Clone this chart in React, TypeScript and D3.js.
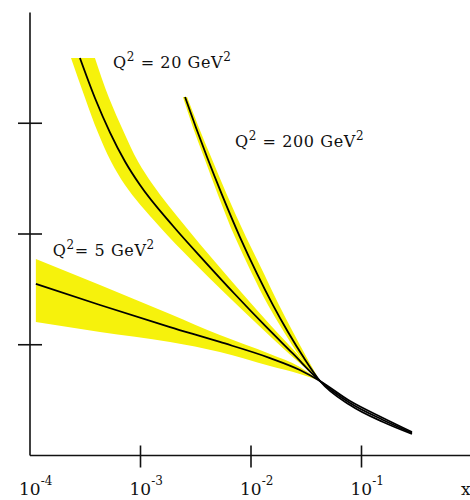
import React from 'react';
import * as d3 from 'd3';

const W = 470;
const H = 500;

// x axis: decades on a log scale, labelled 10^n
const xDecades = [1e-4, 1e-3, 1e-2, 1e-1];
const xExponents = ['-4', '-3', '-2', '-1'];
const xTicks = [1e-3, 1e-2, 1e-1];
// y axis: unlabelled ticks
const yTicks = [1, 2, 3];

// Q² = 5 GeV²: central curve and its uncertainty band (band given as lo/hi at each x)
const q5X = [1.13e-4, 4.3e-4, 1.85e-3, 5.23e-3, 0.01486, 0.0277, 0.0421, 0.0787, 0.1567, 0.2864];
const q5Y = [1.549, 1.359, 1.16, 1.025, 0.88, 0.772, 0.673, 0.492, 0.339, 0.212];
const q5BandX = [1.13e-4, 4.3e-4, 1.85e-3, 5.23e-3, 0.01486, 0.0277, 0.0421];
const q5BandHi = [1.774, 1.54, 1.278, 1.088, 0.916, 0.799, 0.673];
const q5BandLo = [1.205, 1.115, 1.025, 0.935, 0.808, 0.736, 0.673];

// Q² = 20 GeV²: band given as left/right x at each y level
const q20X = [2.83e-4, 3.87e-4, 5.3e-4, 7.24e-4, 9.9e-4, 1.97e-3, 3.84e-3, 7.16e-3, 0.0134, 0.02399, 0.0421, 0.0787, 0.1567, 0.2864];
const q20Y = [3.589, 3.228, 2.916, 2.655, 2.442, 2.072, 1.749, 1.456, 1.172, 0.919, 0.673, 0.474, 0.321, 0.203];
const q20BandY = [3.589, 3.228, 2.916, 2.655, 2.442, 2.072, 1.749, 1.456, 1.172, 0.919, 0.673];
const q20BandXLeft = [2.35e-4, 3.15e-4, 4.12e-4, 5.41e-4, 7.24e-4, 1.47e-3, 2.99e-3, 5.94e-3, 0.01181, 0.02208, 0.0421];
const q20BandXRight = [3.87e-4, 5.19e-4, 7.09e-4, 9.49e-4, 1.3e-3, 2.53e-3, 4.72e-3, 8.47e-3, 0.01517, 0.02609, 0.0421];

// Q² = 200 GeV²
const q200X = [2.53e-3, 3.18e-3, 4.0e-3, 5.47e-3, 7.94e-3, 0.01133, 0.01581, 0.02162, 0.03019, 0.0421, 0.0787, 0.1567, 0.2864];
const q200Y = [3.237, 2.96, 2.695, 2.353, 1.972, 1.642, 1.358, 1.115, 0.88, 0.673, 0.456, 0.302, 0.194];
const q200BandY = [3.237, 2.96, 2.695, 2.353, 1.972, 1.642, 1.358, 1.115, 0.88, 0.673];
const q200BandXLeft = [2.42e-3, 2.99e-3, 3.75e-3, 5.03e-3, 7.16e-3, 0.01021, 0.01425, 0.01988, 0.02835, 0.0421];
const q200BandXRight = [2.64e-3, 3.38e-3, 4.35e-3, 6.07e-3, 9.01e-3, 0.01311, 0.01792, 0.02399, 0.03211, 0.0421];

// curve labels: Q² value, gap before "=", and anchor point in data units
const labelQ2 = ['20', '200', '5'];
const labelSpace = [' ', ' ', ''];
const labelX = [5.64e-4, 7.16e-3, 1.61e-4];
const labelY = [3.499, 2.786, 1.801];

const BAND = '#f6f20c';
const FONT = 'DejaVu Serif';

export default function App() {
  const x = d3.scaleLog().domain([1e-4, 1e-1]).range([30, 361.5]);
  const y = d3.scaleLinear().domain([0, 4]).range([455.5, 12.5]);

  const line = (xs: number[], ys: number[]) =>
    d3
      .line<number>()
      .x((i) => x(xs[i]))
      .y((i) => y(ys[i]))
      .curve(d3.curveMonotoneX)(d3.range(xs.length)) as string;

  const bandH = (xs: number[], lo: number[], hi: number[]) =>
    d3
      .area<number>()
      .x((i) => x(xs[i]))
      .y0((i) => y(lo[i]))
      .y1((i) => y(hi[i]))
      .curve(d3.curveMonotoneX)(d3.range(xs.length)) as string;

  const bandV = (ys: number[], left: number[], right: number[]) =>
    d3
      .area<number>()
      .y((i) => y(ys[i]))
      .x0((i) => x(left[i]))
      .x1((i) => x(right[i]))
      .curve(d3.curveMonotoneY)(d3.range(ys.length)) as string;

  const x0 = x(1e-4);
  const yBase = y(0);

  return (
    <svg
      width={W}
      height={H}
      style={{ position: 'absolute', left: 0, top: 0, background: '#fff' }}
      fontFamily={FONT}
    >
      <rect width={W} height={H} fill="#fff" />

      {/* uncertainty bands */}
      <path d={bandH(q5BandX, q5BandLo, q5BandHi)} fill={BAND} />
      <path d={bandV(q20BandY, q20BandXLeft, q20BandXRight)} fill={BAND} />
      <path d={bandV(q200BandY, q200BandXLeft, q200BandXRight)} fill={BAND} />

      {/* central curves */}
      <g fill="none" stroke="#000" strokeWidth={1.8}>
        <path d={line(q5X, q5Y)} />
        <path d={line(q20X, q20Y)} />
        <path d={line(q200X, q200Y)} />
      </g>

      {/* axes */}
      <g stroke="#111" strokeWidth={1.6}>
        <line x1={x0} x2={x0} y1={y(4)} y2={yBase} />
        <line x1={x0} x2={W} y1={yBase} y2={yBase} />
        {yTicks.map((t) => (
          <line key={t} x1={x0 - 12} x2={x0 + 12} y1={y(t)} y2={y(t)} />
        ))}
        {xTicks.map((t) => (
          <line key={t} x1={x(t)} x2={x(t)} y1={yBase - 10} y2={yBase + 12} />
        ))}
      </g>

      {/* decade labels */}
      <g fontSize={17} fill="#111">
        {xDecades.map((d, i) => (
          <text key={d} x={x(d) - 11} y={495}>
            10
            <tspan dy={-10} fontSize={12}>
              {xExponents[i]}
            </tspan>
          </text>
        ))}
        <text x={461} y={495}>
          x
        </text>
      </g>

      {/* curve labels */}
      <g fontSize={16} fill="#111" letterSpacing={0.6}>
        {labelQ2.map((q, i) => (
          <text key={q} x={x(labelX[i])} y={y(labelY[i])}>
            Q
            <tspan dy={-7} fontSize={12}>
              2
            </tspan>
            <tspan dy={7}>{`${labelSpace[i]}= ${q} GeV`}</tspan>
            <tspan dy={-7} fontSize={12}>
              2
            </tspan>
          </text>
        ))}
      </g>
    </svg>
  );
}
